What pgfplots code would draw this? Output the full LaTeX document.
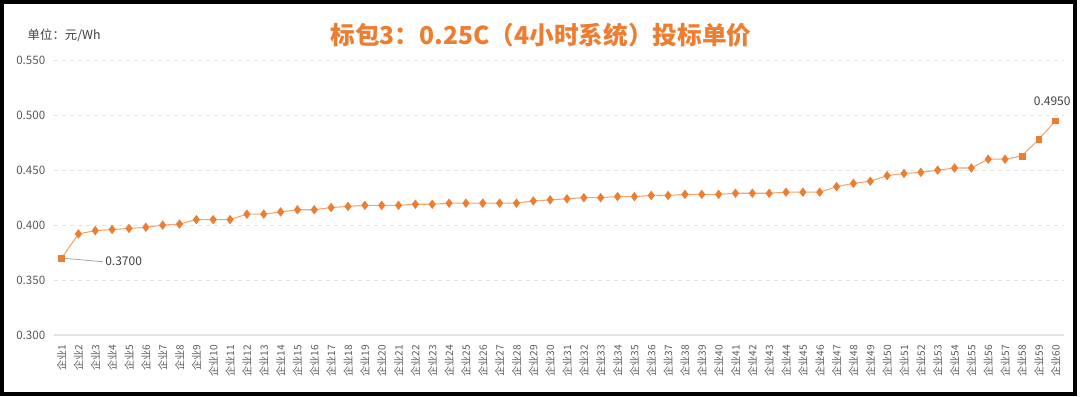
\documentclass[border=0pt]{standalone}
\usepackage{pgfplots}
\pgfplotsset{compat=1.18}
\usepackage{pgfplotstable}
\usepackage{fontspec}
\setmainfont{Noto Sans CJK SC}
\definecolor{orgmark}{HTML}{ED7D31}
\definecolor{orgline}{HTML}{F4A46C}
\definecolor{tickgray}{HTML}{595959}
\definecolor{txtgray}{HTML}{404040}
\definecolor{gridgray}{HTML}{E3E3E3}
\pgfplotstableread{
x y
1 0.370
2 0.392
3 0.395
4 0.396
5 0.397
6 0.398
7 0.400
8 0.401
9 0.405
10 0.405
11 0.405
12 0.410
13 0.410
14 0.412
15 0.414
16 0.414
17 0.416
18 0.417
19 0.418
20 0.418
21 0.418
22 0.419
23 0.419
24 0.420
25 0.420
26 0.420
27 0.420
28 0.420
29 0.422
30 0.423
31 0.424
32 0.425
33 0.425
34 0.426
35 0.426
36 0.427
37 0.427
38 0.428
39 0.428
40 0.428
41 0.429
42 0.429
43 0.429
44 0.430
45 0.430
46 0.430
47 0.435
48 0.438
49 0.440
50 0.445
51 0.447
52 0.448
53 0.450
54 0.452
55 0.452
56 0.460
57 0.460
58 0.463
59 0.478
60 0.495
}\datatable
\begin{document}
\begin{tikzpicture}[x=0.75pt,y=0.75pt]
\path[use as bounding box] (0,0) rectangle (1080,396);
\draw[line width=3pt] (2,2) rectangle (1075,393.5);
\node[text=txtgray,font=\fontsize{9.3}{10}\selectfont,anchor=west] at (23,361) {单位：元/Wh};
\node[text=orgmark,font=\fontsize{18.5}{20}\selectfont\bfseries] at (541,361) {标包3：0.25C（4小时系统）投标单价};
\begin{axis}[
  at={(40.5pt,45.75pt)}, anchor=south west,
  scale only axis, width=757.5pt, height=206pt,
  xmin=0.55, xmax=60.5, ymin=0.3, ymax=0.55,
  ytick={0.3,0.35,...,0.56},
  xtick={1,...,60},
  xticklabel={企业\pgfmathparse{int(\tick)}\pgfmathresult},
  xticklabel style={rotate=90,anchor=east,font=\fontsize{7.6}{8}\selectfont,text=tickgray},
  xticklabel shift=4pt,
  yticklabel style={font=\fontsize{8.7}{10}\selectfont,text=tickgray,xshift=-3pt,
    /pgf/number format/.cd,fixed,fixed zerofill,precision=3,assume math mode=true},
  major tick length=0pt,
  axis line style={draw=none},
  ymajorgrids, major grid style={gridgray,dashed,line width=0.6pt},
  clip=false,
]
\draw[gridgray,line width=0.8pt] (rel axis cs:0,0) -- (rel axis cs:1,0);
\addplot[orgline,line width=0.8pt,mark=diamond*,mark indices={2,...,57},mark size=2.9pt,mark options={orgmark,draw=orgmark,fill=orgmark}] table[x=x,y=y] {\datatable};
\addplot[only marks,mark=square*,mark size=2.2pt,mark options={orgmark,draw=orgmark,fill=orgmark}] coordinates {(1,0.370) (58,0.463) (59,0.478) (60,0.495)};
\draw[gray!70,line width=0.6pt] (axis cs:1,0.370) -- (axis cs:3.45,0.3667);
\node[anchor=west,text=txtgray,font=\fontsize{9}{10}\selectfont,inner sep=1pt] at (axis cs:3.5,0.3667) {0.3700};
\node[text=txtgray,font=\fontsize{9}{10}\selectfont] at (axis cs:59.8,0.5125) {0.4950};
\end{axis}
\end{tikzpicture}
\end{document}
